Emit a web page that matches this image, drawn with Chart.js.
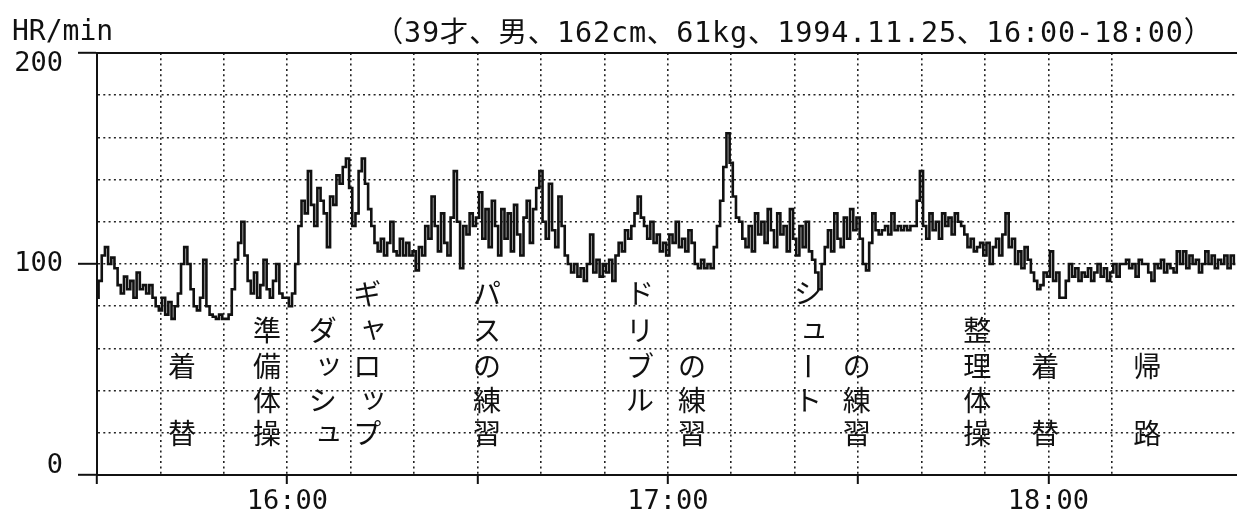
<!DOCTYPE html>
<html>
<head>
<meta charset="utf-8">
<script src="https://cdn.jsdelivr.net/npm/chart.js@4"></script>
<style>
  html, body { margin: 0; padding: 0; background: #fff; overflow: hidden; }
</style>
</head>
<body>
<canvas id="hrChart" width="1237" height="512"></canvas>
<script>
// heart rate, one value every 30 s from 15:30
const sampleStep = 0.5;
const heartRate = [
  84, 92, 104, 108, 100, 103, 98, 90, 86, 94, 88, 92, 84, 96, 88, 90, 86, 90, 84, 80,
  78, 84, 76, 82, 74, 80, 86, 100, 108, 100, 88, 80, 78, 84, 102, 80, 76, 75, 74, 76,
  74, 74, 76, 88, 102, 110, 120, 104, 92, 86, 96, 84, 90, 102, 88, 84, 92, 100, 86, 84,
  84, 80, 86, 100, 118, 130, 124, 144, 128, 118, 136, 130, 124, 108, 132, 128, 142, 138, 146, 150,
  136, 118, 124, 144, 150, 138, 126, 118, 110, 106, 112, 104, 110, 120, 106, 104, 112, 104, 110, 104,
  106, 97, 108, 104, 118, 112, 132, 118, 106, 124, 110, 104, 122, 144, 120, 98, 118, 114, 124, 118,
  122, 134, 112, 126, 108, 130, 118, 104, 126, 112, 124, 106, 128, 114, 104, 122, 130, 110, 126, 136,
  144, 120, 112, 138, 116, 108, 132, 118, 104, 100, 96, 100, 94, 98, 92, 100, 114, 96, 102, 94,
  100, 96, 102, 92, 104, 110, 106, 116, 112, 118, 124, 132, 122, 118, 112, 120, 110, 114, 106, 110,
  104, 114, 110, 120, 108, 112, 106, 116, 110, 100, 98, 102, 98, 100, 98, 108, 118, 130, 146, 162,
  148, 132, 122, 120, 112, 108, 118, 106, 124, 114, 120, 110, 126, 116, 108, 124, 114, 118, 106, 126,
  112, 104, 118, 108, 120, 106, 102, 96, 88, 100, 108, 116, 106, 124, 112, 108, 122, 112, 126, 116,
  122, 112, 100, 97, 110, 124, 116, 114, 116, 118, 114, 124, 116, 118, 116, 118, 116, 118, 118, 130,
  144, 118, 112, 124, 116, 120, 112, 124, 118, 122, 114, 124, 120, 118, 114, 108, 112, 106, 108, 110,
  104, 110, 100, 108, 112, 104, 114, 124, 108, 112, 100, 106, 98, 108, 102, 96, 92, 88, 90, 96,
  94, 106, 92, 96, 84, 84, 92, 100, 94, 98, 92, 96, 94, 98, 92, 96, 100, 94, 98, 92,
  96, 100, 94, 100, 100, 102, 98, 100, 94, 102, 100, 100, 96, 92, 100, 98, 102, 96, 100, 98,
  96, 106, 100, 106, 98, 104, 100, 102, 96, 100, 106, 100, 104, 98, 102, 100, 104, 98, 104, 100
];

const hourTicks = [30, 90, 150];
const hourLabels = ["16:00", "17:00", "18:00"];
const yLabelValues = [200, 100, 0];

const activityNames = ["着替", "準備体操", "ダッシュ", "ギャロップ", "パスの練習", "ドリブル",
  "の練習", "シュート", "の練習", "整理体操", "着替", "帰路"];
const activityTimes = [13.4, 26.8, 35.6, 42.6, 61.5, 85.6, 93.8, 112.1, 119.8, 138.8, 149.5, 165.6];

const yAxisTitle = "HR/min";
const subtitle = "（39才、男、162cm、61kg、1994.11.25、16:00-18:00）";

// which text rows each label occupies (rows from top)
const labelRows = [[2, 4], [1, 2, 3, 4], [1, 2, 3, 4], [0, 1, 2, 3, 4], [0, 1, 2, 3, 4], [0, 1, 2, 3],
  [2, 3, 4], [0, 1, 2, 3], [2, 3, 4], [1, 2, 3, 4], [2, 4], [2, 4]];
const rowLevels = [86, 68.5, 51.5, 35.3, 19.7];

const ink = "#111";
const monoFont = "'DejaVu Sans Mono', 'Noto Sans CJK JP', monospace";

const decor = {
  id: "decor",
  afterDraw(chart) {
    const { ctx, chartArea: a, scales } = chart;
    const x = scales.x, y = scales.y;
    ctx.save();

    // solid top frame
    ctx.strokeStyle = ink;
    ctx.lineWidth = 2;
    ctx.beginPath();
    ctx.moveTo(a.left, y.getPixelForValue(200));
    ctx.lineTo(a.right, y.getPixelForValue(200));
    ctx.stroke();

    ctx.fillStyle = ink;
    ctx.font = "27px " + monoFont;
    ctx.textAlign = "right";
    ctx.textBaseline = "middle";
    yLabelValues.forEach(v => {
      let off = 0;
      if (v === 200) off = 11;
      if (v === 0) off = -9;
      ctx.fillText(String(v), 63, y.getPixelForValue(v) + off);
    });

    ctx.textBaseline = "alphabetic";
    ctx.textAlign = "left";
    ctx.font = "28px " + monoFont;
    ctx.fillText(yAxisTitle, 12, 40);
    ctx.textAlign = "right";
    ctx.font = "28.5px " + monoFont;
    ctx.letterSpacing = "0.8px";
    ctx.fillText(subtitle, 1213, 42);
    ctx.letterSpacing = "0px";

    // activity labels, written top to bottom
    ctx.font = "28px 'Noto Sans CJK JP'";
    ctx.textAlign = "center";
    ctx.textBaseline = "middle";
    activityNames.forEach((name, i) => {
      const px = x.getPixelForValue(activityTimes[i]);
      Array.from(name).forEach((ch, k) => {
        const py = y.getPixelForValue(rowLevels[labelRows[i][k]]);
        if (ch === "ー") {
          ctx.save();
          ctx.translate(px, py);
          ctx.rotate(Math.PI / 2);
          ctx.fillText(ch, 0, 0);
          ctx.restore();
        } else if ("ッャュョ".includes(ch)) {
          ctx.fillText(ch, px + 6, py - 3);
        } else {
          ctx.fillText(ch, px, py);
        }
      });
    });
    ctx.restore();
  }
};

new Chart(document.getElementById("hrChart"), {
  type: "line",
  data: {
    datasets: [{
      data: heartRate.map((v, i) => ({ x: i * sampleStep, y: v })),
      borderColor: ink,
      borderWidth: 2.6,
      pointRadius: 0,
      stepped: "middle",
      fill: false
    }]
  },
  options: {
    responsive: false,
    animation: false,
    events: [],
    layout: { padding: { top: 53, left: 0, right: 0, bottom: 0 } },
    plugins: { legend: { display: false }, tooltip: { enabled: false } },
    scales: {
      x: {
        type: "linear",
        min: 0,
        max: 179.75,
        afterBuildTicks: s => { s.ticks = s.ticks.filter(t => t.value % 10 === 0); },
        afterFit: s => { s.height = 37; },
        ticks: {
          stepSize: 10,
          autoSkip: false,
          maxRotation: 0,
          padding: 2,
          color: ink,
          font: { family: monoFont, size: 27 },
          callback: v => {
            const i = hourTicks.indexOf(v);
            return i >= 0 ? hourLabels[i] : "";
          }
        },
        grid: {
          color: "#222",
          lineWidth: 1.6,
          tickLength: 9,
          tickWidth: 2,
          tickColor: c => (c.tick && c.tick.value % 30 === 0) ? ink : "rgba(0,0,0,0)"
        },
        border: { color: ink, width: 2, dash: [2, 3.3] }
      },
      y: {
        min: 0,
        max: 200,
        afterFit: s => { s.width = 97; },
        ticks: { stepSize: 20, display: false },
        grid: {
          color: "#222",
          lineWidth: 1.6,
          tickLength: 19,
          tickWidth: 2,
          tickColor: c => (c.tick && c.tick.value % 100 === 0) ? ink : "rgba(0,0,0,0)"
        },
        border: { color: ink, width: 2, dash: [2, 3.3] }
      }
    }
  },
  plugins: [decor]
});
</script>
</body>
</html>
